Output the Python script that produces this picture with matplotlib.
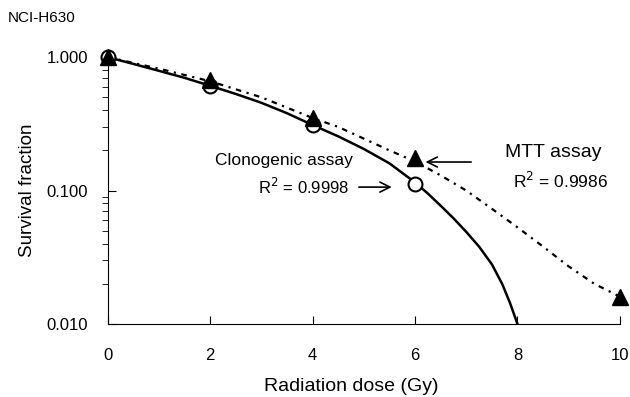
import matplotlib
matplotlib.use("Agg")
import matplotlib.pyplot as plt
from matplotlib.ticker import FixedLocator, LogLocator, NullFormatter

plt.rcParams['font.family'] = ['Liberation Sans', 'DejaVu Sans']

# measured points
dose = [0, 2, 4, 6]
clono = [1.0, 0.61, 0.31, 0.112]
mtt_dose = [0, 2, 4, 6, 10]
mtt = [1.0, 0.67, 0.35, 0.175, 0.016]

# fitted curves
clono_fit_x = [0, 0.5, 1, 1.5, 2, 2.5, 3, 3.5, 4, 4.5, 5, 5.5, 6, 6.25, 6.5,
               6.75, 7, 7.25, 7.5, 7.7, 7.85, 8.0]
clono_fit_y = [1.0, 0.89, 0.79, 0.70, 0.61, 0.53, 0.455, 0.38, 0.31, 0.255, 0.205,
               0.16, 0.115, 0.095, 0.077, 0.062, 0.049, 0.038, 0.028, 0.02, 0.0145, 0.01]
mtt_fit_x = [0, 1, 2, 3, 4, 4.5, 5, 5.5, 6, 6.5, 7, 7.5, 8, 8.5, 9, 9.5, 10]
mtt_fit_y = [1.0, 0.82, 0.66, 0.5, 0.35, 0.30, 0.245, 0.20, 0.165, 0.13, 0.10,
             0.073, 0.053, 0.038, 0.027, 0.02, 0.016]

xticks = [0, 2, 4, 6, 8, 10]
yticks = [0.01, 0.1, 1.0]
ytick_labels = ['0.010', '0.100', '1.000']

fig = plt.figure(figsize=(6.3, 3.97), dpi=100)
ax = fig.add_axes([0.171, 0.184, 0.813, 0.672])

ax.plot(clono_fit_x, clono_fit_y, color='black', lw=1.8, solid_joinstyle='round')
ax.plot(mtt_fit_x, mtt_fit_y, color='black', lw=1.6, linestyle=(0, (2.5, 2.5, 1, 2.5)))
ax.plot(dose, clono, 'o', mfc='white', mec='black', mew=1.5, ms=10, clip_on=False, zorder=3)
ax.plot(mtt_dose, mtt, '^', color='black', ms=11, clip_on=False, zorder=4)

ax.set_yscale('log')
ax.set_ylim(0.01, 1.0)
ax.set_xlim(0, 10)
ax.xaxis.set_major_locator(FixedLocator(xticks))
ax.set_yticks(yticks)
ax.set_yticklabels(ytick_labels)
ax.yaxis.set_minor_locator(LogLocator(base=10, subs=range(2, 10)))
ax.yaxis.set_minor_formatter(NullFormatter())
ax.tick_params(axis='both', direction='in', labelsize=12, width=0.8)
ax.tick_params(axis='y', which='major', length=6, pad=14)
ax.tick_params(axis='y', which='minor', length=4)
ax.tick_params(axis='x', length=6, pad=17)

for side in ['top', 'right']:
    ax.spines[side].set_visible(False)
for side in ['left', 'bottom']:
    ax.spines[side].set_linewidth(0.8)

ax.set_xlabel('Radiation dose (Gy)', fontsize=14, labelpad=11, x=0.475)
ax.set_ylabel('Survival fraction', fontsize=13.5, labelpad=8)
fig.text(0.013, 0.955, 'NCI-H630', fontsize=11, va='center', ha='left')

# annotations (axes fraction)
ax.text(0.209, 0.614, 'Clonogenic assay', fontsize=12.5, va='center', ha='left',
        transform=ax.transAxes)
ax.text(0.293, 0.513, r'R$^2$ = 0.9998', fontsize=12, va='center', ha='left',
        transform=ax.transAxes)
ax.annotate('', xy=(0.56, 0.513), xytext=(0.485, 0.513), xycoords='axes fraction',
            arrowprops=dict(arrowstyle='->', color='black', lw=1.2, mutation_scale=18))
ax.text(0.775, 0.644, 'MTT assay', fontsize=14, va='center', ha='left',
        transform=ax.transAxes)
ax.text(0.791, 0.536, r'R$^2$ = 0.9986', fontsize=12.5, va='center', ha='left',
        transform=ax.transAxes)
ax.annotate('', xy=(0.615, 0.607), xytext=(0.715, 0.607), xycoords='axes fraction',
            arrowprops=dict(arrowstyle='->', color='black', lw=1.2, mutation_scale=18))

fig.savefig('out.png', dpi=100)
